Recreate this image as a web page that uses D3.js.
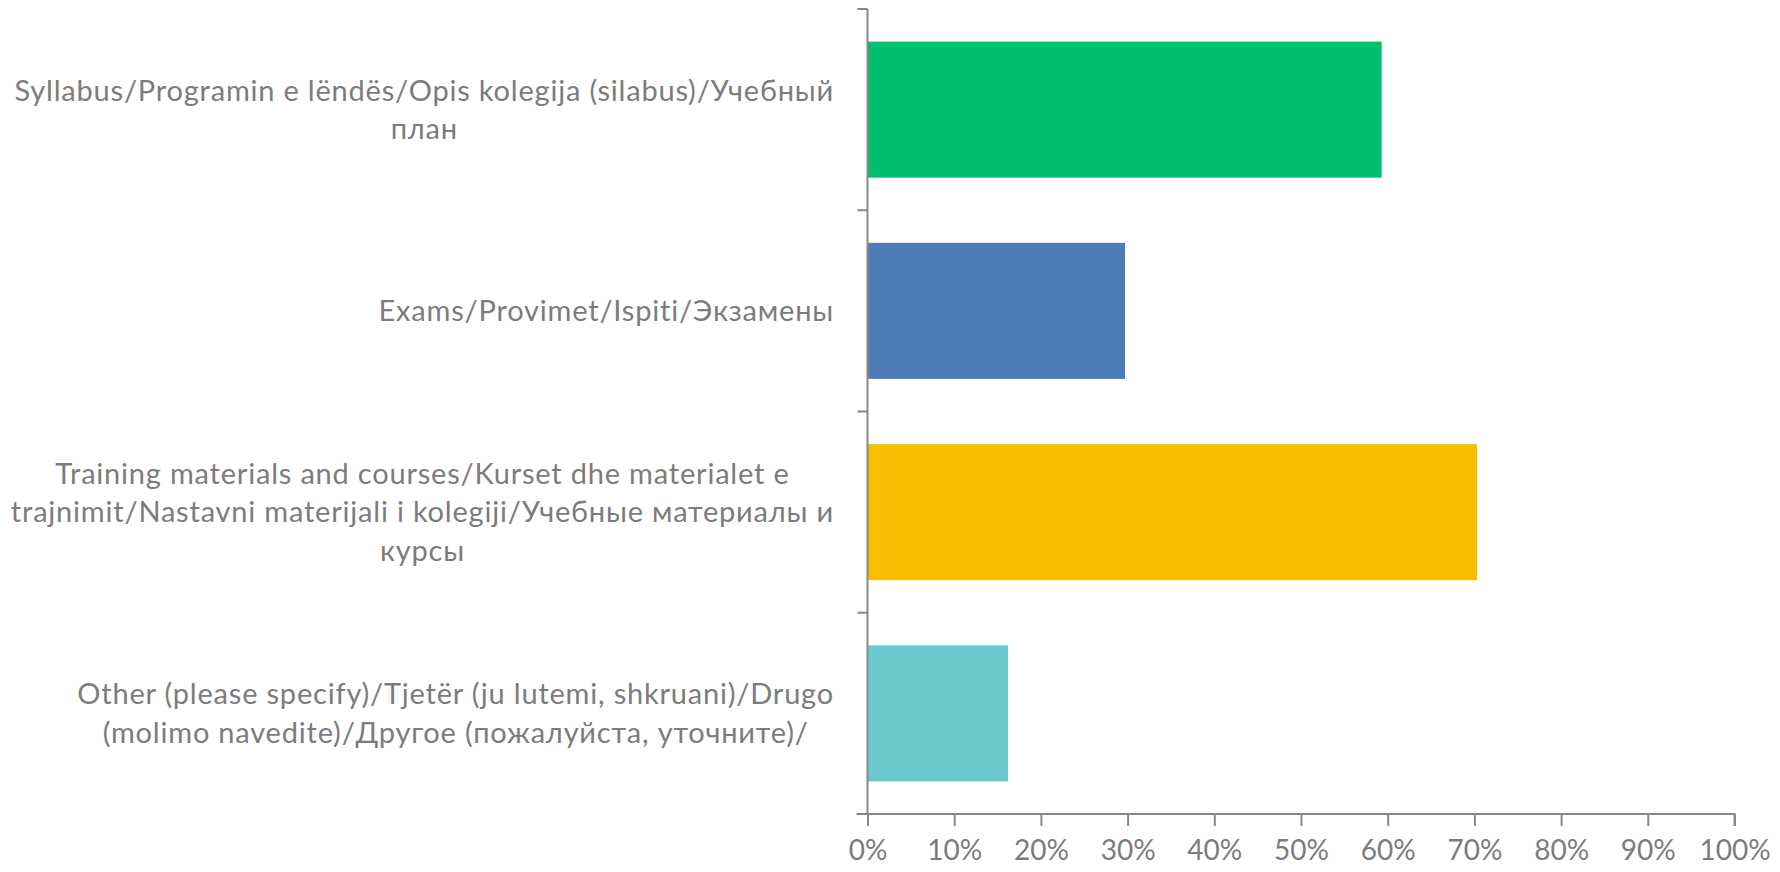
<!DOCTYPE html>
<html>
<head>
<meta charset="utf-8">
<script src="https://cdn.jsdelivr.net/npm/d3@7"></script>
<style>
  body { margin: 0; background: #fff; }
  svg text { font-family: Lato, "Open Sans", sans-serif; fill: #7c7c7c; }
</style>
</head>
<body>
<svg id="chart" width="1780" height="872"></svg>
<script>
var categories = [
  "Syllabus",
  "Exams",
  "Training",
  "Other"
];
var categoryLabels = [
  ["Syllabus/Programin e lëndës/Opis kolegija (silabus)/Учебный", "план"],
  ["Exams/Provimet/Ispiti/Экзамены"],
  ["Training materials and courses/Kurset dhe materialet e", "trajnimit/Nastavni materijali i kolegiji/Учебные материалы и", "курсы"],
  ["Other (please specify)/Tjetër (ju lutemi, shkruani)/Drugo", "(molimo navedite)/Другое (пожалуйста, уточните)/"]
];
var values = [59.3, 29.7, 70.3, 16.2];
var barColors = ["#00bf6f", "#507cb6", "#f9be00", "#6bc8cd"];
var xTicks = [0, 10, 20, 30, 40, 50, 60, 70, 80, 90, 100];

var svg = d3.select("#chart");
var axisColor = "#878787",
    fontSize = 28,
    labelSize = 29,
    lineGap = 38.5;

var x = d3.scaleLinear().domain([0, 100]).range([867.5, 1734.5]);
var y = d3.scaleBand()
  .domain(categories)
  .range([9, 814])
  .paddingInner(0.324)
  .paddingOuter(0.162);

// bars
svg.selectAll("rect.bar")
  .data(values)
  .enter()
  .append("rect")
    .attr("class", "bar")
    .attr("x", x(0))
    .attr("y", function (d, i) { return y(categories[i]); })
    .attr("width", function (d) { return x(d) - x(0); })
    .attr("height", y.bandwidth())
    .attr("fill", function (d, i) { return barColors[i]; });

// bottom axis
var xAxis = svg.append("g")
  .attr("transform", "translate(0,814)")
  .call(d3.axisBottom(x)
    .tickValues(xTicks)
    .tickSize(12)
    .tickPadding(14)
    .tickFormat(function (d) { return d + "%"; }));
xAxis.select(".domain").attr("stroke", axisColor).attr("stroke-width", 2)
  .attr("d", "M" + (x(0) - 11) + ",0H" + x(100) + "V12");
xAxis.selectAll(".tick line").attr("stroke", axisColor).attr("stroke-width", 2);
xAxis.selectAll(".tick text")
  .attr("fill", null)
  .style("font-size", fontSize + "px")
  .style("font-family", "Lato, sans-serif");

// left axis: vertical line with ticks on band boundaries
var step = y.step();
var bounds = d3.range(categories.length + 1).map(function (i) { return y.range()[0] + i * step; });
svg.append("line")
  .attr("x1", x(0)).attr("x2", x(0))
  .attr("y1", y.range()[0]).attr("y2", y.range()[1])
  .attr("stroke", axisColor).attr("stroke-width", 2);
svg.selectAll("line.ytick")
  .data(bounds)
  .enter()
  .append("line")
    .attr("class", "ytick")
    .attr("x1", x(0) - 10).attr("x2", x(0))
    .attr("y1", function (d) { return d; })
    .attr("y2", function (d) { return d; })
    .attr("stroke", axisColor).attr("stroke-width", 2);

// category labels, lines centred in a block that ends near the axis
var labelRight = 834;
categoryLabels.forEach(function (lines, i) {
  var cy = y(categories[i]) + y.bandwidth() / 2;
  var g = svg.append("g");
  var texts = g.selectAll("text")
    .data(lines)
    .enter()
    .append("text")
      .attr("text-anchor", "middle")
      .attr("dy", "0.35em")
      .style("font-size", labelSize + "px")
      .style("letter-spacing", "0.8px")
      .attr("y", function (d, j) { return cy + (j - (lines.length - 1) / 2) * lineGap; })
      .text(function (d) { return d; });
  var w = 0;
  texts.each(function () { w = Math.max(w, this.getComputedTextLength()); });
  texts.attr("x", labelRight - w / 2);
});
</script>
</body>
</html>
